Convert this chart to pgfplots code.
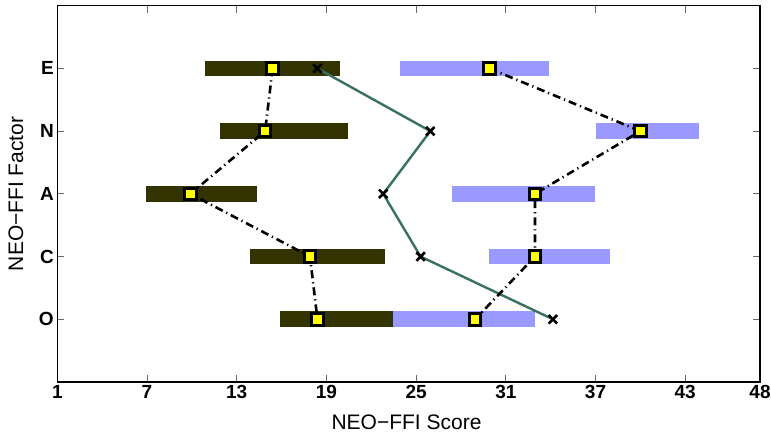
\documentclass[border=0pt]{standalone}
\usepackage{pgfplots}
\pgfplotsset{compat=1.18}
\usepackage{fontspec}
\setmainfont{Liberation Sans}
\definecolor{darkbar}{HTML}{333300}
\definecolor{bluebar}{HTML}{9999FF}
\definecolor{greenline}{HTML}{3A7060}
\definecolor{ylw}{HTML}{FFFF00}
\begin{document}
\begin{tikzpicture}
\begin{axis}[name=ax,
  scale only axis, width=702.7pt, height=376.3pt,
  xmin=1, xmax=48, ymin=0, ymax=6,
  xtick={1,7,13,19,25,31,37,43,48},
  ytick={1,2,3,4,5}, yticklabels={O,C,A,N,E},
  tick align=inside, major tick length=7pt,
  tick style={black!60, line width=0.7pt},
  axis line style={line width=1.1pt},
  /pgf/number format/assume math mode=true,
  tick label style={font=\fontsize{19}{22}\selectfont\bfseries},
  xlabel={NEO−FFI Score}, ylabel={NEO−FFI Factor},
  label style={font=\fontsize{21}{24}\selectfont},
  xlabel style={at={(axis description cs:0.497,-0.1275)}, anchor=base},
  ylabel style={at={(axis description cs:-0.0488,0.5)}, anchor=base},
  clip=false,
]
% dark bars
\addplot[darkbar, line width=15.7pt, line cap=butt, no marks] coordinates {(10.9,5) (19.9,5)};
\addplot[darkbar, line width=15.7pt, line cap=butt, no marks] coordinates {(11.85,4) (20.45,4)};
\addplot[darkbar, line width=15.7pt, line cap=butt, no marks] coordinates {(6.9,3) (14.35,3)};
\addplot[darkbar, line width=15.7pt, line cap=butt, no marks] coordinates {(13.9,2) (22.9,2)};
\addplot[darkbar, line width=15.7pt, line cap=butt, no marks] coordinates {(15.9,1) (23.45,1)};
% blue bars
\addplot[bluebar, line width=15.7pt, line cap=butt, no marks] coordinates {(23.95,5) (33.9,5)};
\addplot[bluebar, line width=15.7pt, line cap=butt, no marks] coordinates {(37.0,4) (43.95,4)};
\addplot[bluebar, line width=15.7pt, line cap=butt, no marks] coordinates {(27.4,3) (36.95,3)};
\addplot[bluebar, line width=15.7pt, line cap=butt, no marks] coordinates {(29.9,2) (37.95,2)};
\addplot[bluebar, line width=15.7pt, line cap=butt, no marks] coordinates {(23.45,1) (32.95,1)};
% green line with x marks
\addplot[greenline, line width=2.4pt, no marks] coordinates {(18.4,5) (25.95,4) (22.8,3) (25.3,2) (34.15,1)};
% dash-dot mean lines
\addplot[black, line width=2.6pt, dash pattern=on 8pt off 4pt on 1.2pt off 4pt, no marks] coordinates {(15.4,5) (14.9,4) (9.9,3) (17.9,2) (18.4,1)};
\addplot[black, line width=2.6pt, dash pattern=on 8pt off 4pt on 1.2pt off 4pt, no marks] coordinates {(29.9,5) (40.0,4) (32.95,3) (32.95,2) (28.95,1)};
% x marks
\addplot[only marks, mark=x, mark size=6pt, black, line width=2.6pt] coordinates {(18.4,5) (25.95,4) (22.8,3) (25.3,2) (34.15,1)};
% square marks
\addplot[only marks, mark=square*, mark size=5.8pt, draw=black, fill=ylw, line width=3pt] coordinates {(15.4,5) (14.9,4) (9.9,3) (17.9,2) (18.4,1)};
\addplot[only marks, mark=square*, mark size=5.8pt, draw=black, fill=ylw, line width=3pt] coordinates {(29.9,5) (40.0,4) (32.95,3) (32.95,2) (28.95,1)};
\end{axis}
\pgfresetboundingbox
\path[use as bounding box] ([xshift=-57.3pt,yshift=5.7pt]ax.north west) rectangle ([xshift=11pt,yshift=-51pt]ax.south east);
\end{tikzpicture}
\end{document}
